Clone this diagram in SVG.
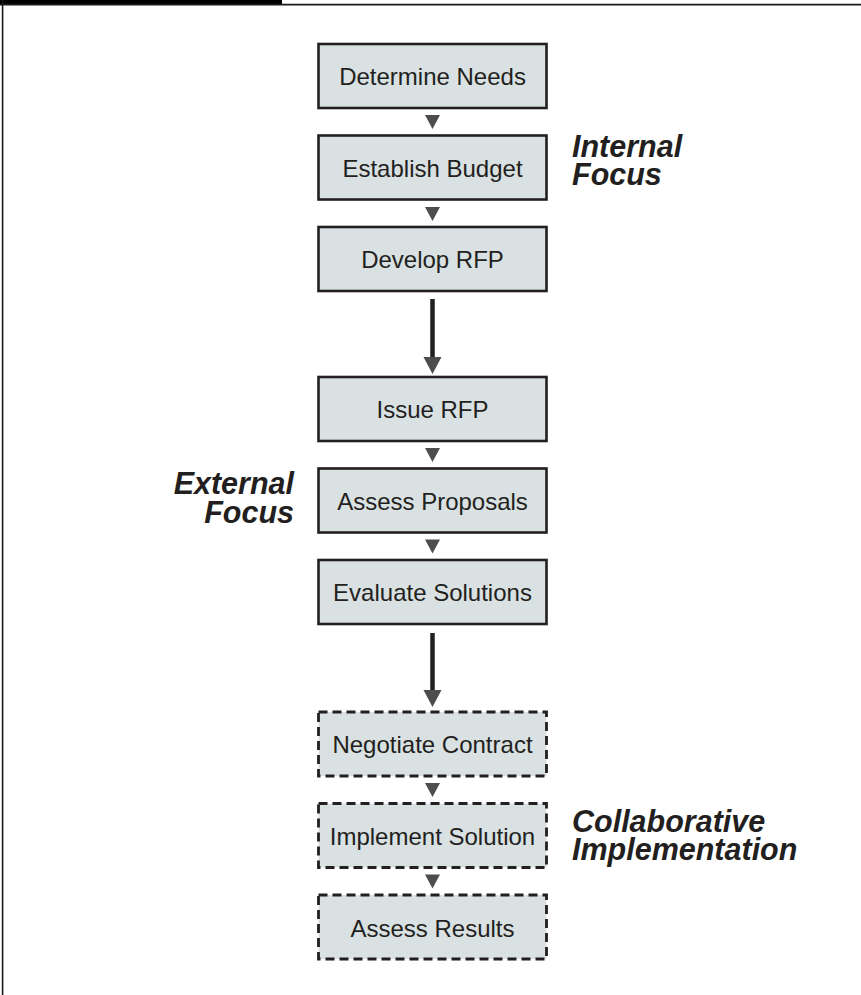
<svg xmlns="http://www.w3.org/2000/svg" width="861" height="995" viewBox="0 0 861 995">
<style>
.box{fill:#d9e1e2;stroke:#231f20;stroke-width:2.6}
.dash{fill:#d9e1e2;stroke:#231f20;stroke-width:2.8;stroke-dasharray:9 5}
.t{font-family:"Liberation Sans",Arial,sans-serif;font-size:24px;fill:#231f20;text-anchor:middle}
.lab{font-family:"Liberation Sans",Arial,sans-serif;font-size:30.5px;font-weight:bold;font-style:italic;fill:#231f20}
.tri{fill:#4d4d4f}
.ln{stroke:#231f20;stroke-width:4.5}
</style>
<rect width="861" height="995" fill="#ffffff"/>
<g id="frame">
<rect x="0" y="0" width="282" height="4.5" fill="#000000"/>
<line x1="0" y1="4.6" x2="861" y2="4.6" stroke="#1a1a1a" stroke-width="1.6"/>
<line x1="2.6" y1="0" x2="2.6" y2="995" stroke="#1a1a1a" stroke-width="1.6"/>
</g>
<g id="connectors">
<polygon class="tri" points="425,115 440,115 432.5,129"/>
<polygon class="tri" points="425,207 440,207 432.5,221"/>
<line class="ln" x1="432.5" y1="299" x2="432.5" y2="360"/>
<polygon class="tri" points="423.5,357 441.5,357 432.5,374"/>
<polygon class="tri" points="425,448 440,448 432.5,462"/>
<polygon class="tri" points="425,539.5 440,539.5 432.5,553.5"/>
<line class="ln" x1="432.5" y1="633" x2="432.5" y2="693"/>
<polygon class="tri" points="423.5,690 441.5,690 432.5,707"/>
<polygon class="tri" points="425,783 440,783 432.5,797"/>
<polygon class="tri" points="425,874.5 440,874.5 432.5,888.5"/>
</g>
<g id="n1"><rect class="box" x="318.5" y="44" width="228" height="64"/><text class="t" x="432.5" y="85">Determine Needs</text></g>
<g id="n2"><rect class="box" x="318.5" y="135.5" width="228" height="64"/><text class="t" x="432.5" y="176.5">Establish Budget</text></g>
<g id="n3"><rect class="box" x="318.5" y="227" width="228" height="64"/><text class="t" x="432.5" y="268">Develop RFP</text></g>
<g id="n4"><rect class="box" x="318.5" y="377" width="228" height="64"/><text class="t" x="432.5" y="418">Issue RFP</text></g>
<g id="n5"><rect class="box" x="318.5" y="468.5" width="228" height="64"/><text class="t" x="432.5" y="509.5">Assess Proposals</text></g>
<g id="n6"><rect class="box" x="318.5" y="560" width="228" height="64"/><text class="t" x="432.5" y="601">Evaluate Solutions</text></g>
<g id="n7"><rect class="dash" x="318.5" y="712" width="228" height="64"/><text class="t" x="432.5" y="753">Negotiate Contract</text></g>
<g id="n8"><rect class="dash" x="318.5" y="803.5" width="228" height="64"/><text class="t" x="432.5" y="845">Implement Solution</text></g>
<g id="n9"><rect class="dash" x="318.5" y="895" width="228" height="64"/><text class="t" x="432.5" y="937">Assess Results</text></g>
<g id="label-internal"><text class="lab" x="572" y="157">Internal</text><text class="lab" x="572" y="185">Focus</text></g>
<g id="label-external"><text class="lab" x="294" y="494" text-anchor="end">External</text><text class="lab" x="294" y="523" text-anchor="end">Focus</text></g>
<g id="label-collab"><text class="lab" x="572" y="832">Collaborative</text><text class="lab" x="572" y="860">Implementation</text></g>
</svg>
